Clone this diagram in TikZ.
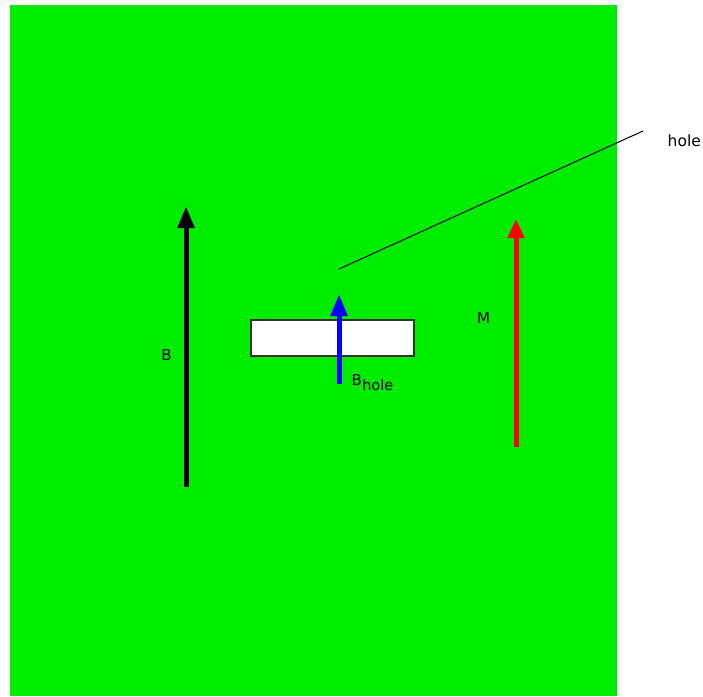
\documentclass[tikz,border=0pt]{standalone}
\usepackage{fontspec}
\setmainfont{DejaVu Sans}
\usetikzlibrary{arrows.meta}
\definecolor{bggreen}{RGB}{0,236,0}
\definecolor{boxedge}{RGB}{50,50,50}
\begin{document}
\begin{tikzpicture}[x=1pt,y=-1pt,
  vec/.style={line width=5pt,-{Triangle[length=22pt,width=16pt]}},
  lbl/.style={inner sep=0pt,font=\fontsize{15}{17}\selectfont},
  ]
\useasboundingbox (0,0) rectangle (703,696);
\fill[bggreen] (10,5) rectangle (616.5,696);
% hole box
\node[draw=boxedge,fill=white,line width=1.2pt,minimum width=163pt,minimum height=36pt,inner sep=0pt] (hole) at (332.5,338) {};
% coordinates
\coordinate (btail) at (186,487);
\coordinate (btip) at (186,206);
\coordinate (mtail) at (516,447);
\coordinate (mtip) at (516,219);
\coordinate (htail) at (339,384);
\coordinate (htip) at (339,294);
\coordinate (lstart) at (339,269);
\coordinate (lend) at (643,131);
% arrows
\draw[vec,black] (btail) -- (btip);
\draw[vec,red,-{Triangle[length=19pt,width=16pt]}] (mtail) -- (mtip);
\draw[vec,blue] (htail) -- (htip);
\draw[black,line width=1pt] (lstart) -- (lend);
% labels
\node[lbl] (lb) at (166.5,355) {B};
\node[lbl] (lm) at (483.5,318) {M};
\node[lbl,anchor=base west] (lbh) at (351.5,385) {B\hspace{0.3pt}\raisebox{-5pt}{\fontsize{14.5}{16}\selectfont hole}};
\node[lbl,anchor=base west,font=\fontsize{15.5}{17}\selectfont] (lhole) at (667.5,146) {hole};
\end{tikzpicture}
\end{document}
